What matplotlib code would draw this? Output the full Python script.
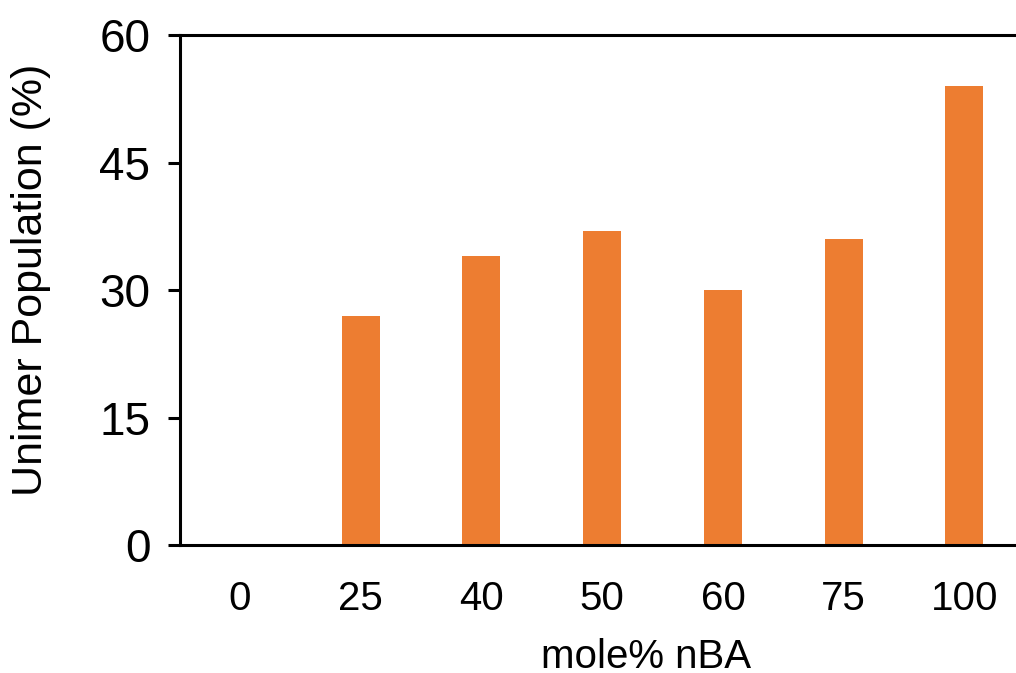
import matplotlib
matplotlib.use("Agg")
import matplotlib.pyplot as plt

categories = ["0", "25", "40", "50", "60", "75", "100"]
unimer_pct = [0, 27, 34, 37, 30, 36, 54]
y_ticks = [0, 15, 30, 45, 60]

plt.rcParams["font.family"] = ["Liberation Sans", "DejaVu Sans"]

fig = plt.figure(figsize=(10.16, 6.73), dpi=100)
ax = fig.add_axes([0.1767, 0.190, 0.832, 0.758])

x = range(len(categories))
ax.bar(x, unimer_pct, width=0.315, color="#ED7D31", zorder=2)

ax.set_xlim(-0.5, len(categories) - 0.5)
ax.set_ylim(0, 60)
ax.set_xticks(list(x))
ax.set_xticklabels(categories)
ax.set_yticks(y_ticks)

ax.spines["right"].set_visible(False)
for side in ("left", "bottom", "top"):
    ax.spines[side].set_linewidth(2.2)
    ax.spines[side].set_color("black")

ax.tick_params(axis="y", direction="out", length=9, width=2.2, pad=12, labelsize=33)
ax.tick_params(axis="x", length=0, pad=25, labelsize=29)

ax.set_xlabel("mole% nBA", fontsize=29)
ax.set_ylabel("Unimer Population (%)", fontsize=31)
ax.xaxis.set_label_coords(0.552, -0.182)
ax.yaxis.set_label_coords(-0.152, 0.52)

fig.savefig("out.png", dpi=100)
